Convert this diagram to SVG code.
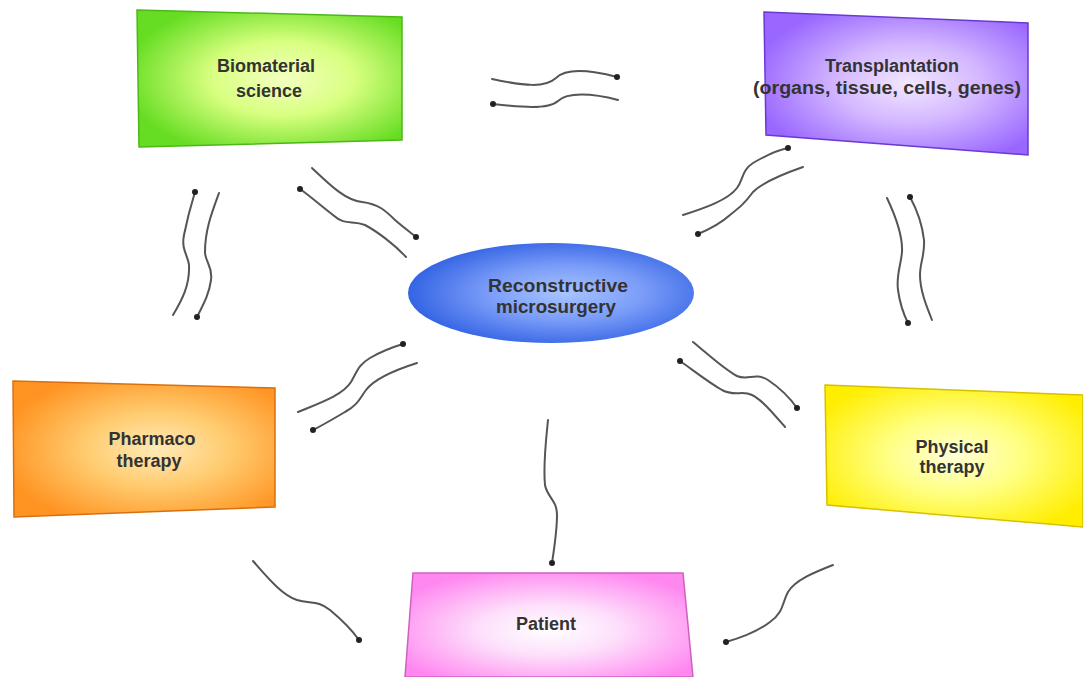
<svg xmlns="http://www.w3.org/2000/svg" width="1083" height="677" viewBox="0 0 1083 677">
<style>
.lbl{font-family:"Liberation Sans",Arial,sans-serif;font-weight:bold;font-size:18px;fill:#333;text-anchor:middle}
.con path{fill:none;stroke:#555;stroke-width:2;stroke-linecap:round;marker-end:url(#dot)}
</style>
<defs>
<marker id="dot" markerWidth="8" markerHeight="8" refX="4" refY="4" markerUnits="userSpaceOnUse"><circle cx="4" cy="4" r="3" fill="#222"/></marker>
<radialGradient id="gGreen" cx="0.55" cy="0.5" r="0.6"><stop offset="0" stop-color="#f4ffc0"/><stop offset="0.45" stop-color="#d8ff80"/><stop offset="1" stop-color="#66dd22"/></radialGradient>
<radialGradient id="gPurple" cx="0.55" cy="0.5" r="0.6"><stop offset="0" stop-color="#f2e8ff"/><stop offset="0.45" stop-color="#d4b8ff"/><stop offset="1" stop-color="#9966ff"/></radialGradient>
<radialGradient id="gBlue" cx="0.55" cy="0.5" r="0.55"><stop offset="0" stop-color="#a8c4ff"/><stop offset="0.5" stop-color="#7a9cf8"/><stop offset="1" stop-color="#3464e4"/></radialGradient>
<radialGradient id="gOrange" cx="0.55" cy="0.5" r="0.6"><stop offset="0" stop-color="#ffeab8"/><stop offset="0.45" stop-color="#ffcc70"/><stop offset="1" stop-color="#ff9422"/></radialGradient>
<radialGradient id="gYellow" cx="0.5" cy="0.5" r="0.6"><stop offset="0" stop-color="#ffffd8"/><stop offset="0.45" stop-color="#ffff80"/><stop offset="1" stop-color="#ffee00"/></radialGradient>
<radialGradient id="gPink" cx="0.5" cy="0.55" r="0.6"><stop offset="0" stop-color="#ffffff"/><stop offset="0.4" stop-color="#fde0fb"/><stop offset="1" stop-color="#ff88f0"/></radialGradient>
</defs>
<rect width="1083" height="677" fill="#ffffff"/>

<g id="connectors" class="con">
<path d="M492,79 C525,86 545,88 556,78 C566,68 590,70 617,77"/>
<path d="M618,100 C592,93 567,92 558,101 C548,110 520,107 493,104"/>
<path d="M173,315 C182,300 190,285 189,265 C188,255 181,250 184,235 C187,220 191,205 195,192"/>
<path d="M219,193 C212,212 205,230 205,252 C205,262 213,266 211,280 C209,295 203,305 197,317"/>
<path d="M312,168 C330,185 345,200 362,202 C378,204 385,210 395,220 C403,227 410,232 416,237"/>
<path d="M406,257 C395,245 378,232 365,225 C352,220 345,226 333,215 C320,205 310,196 300,189"/>
<path d="M683,215 C705,208 728,200 737,188 C743,180 742,170 753,163 C765,156 778,150 788,148"/>
<path d="M803,167 C780,175 762,183 753,192 C745,203 740,207 730,215 C720,224 710,229 698,234"/>
<path d="M887,198 C895,215 903,235 902,252 C901,265 896,275 898,290 C900,305 904,315 908,323"/>
<path d="M932,320 C926,305 920,290 920,275 C920,262 925,255 924,240 C922,222 916,208 910,197"/>
<path d="M298,412 C320,403 343,395 351,382 C357,372 358,365 370,358 C382,351 393,347 403,344"/>
<path d="M417,363 C395,370 375,378 366,390 C360,398 358,405 345,412 C333,419 323,425 313,430"/>
<path d="M693,342 C710,356 725,370 737,376 C748,381 755,372 768,380 C780,388 790,398 797,408"/>
<path d="M785,427 C772,412 762,400 752,395 C742,390 735,397 722,390 C708,382 693,370 680,361"/>
<path d="M548,420 C546,440 543,465 545,485 C547,497 557,500 557,515 C557,530 554,550 552,563"/>
<path d="M253,561 C268,578 282,595 297,600 C310,604 318,600 330,610 C342,620 352,630 359,640"/>
<path d="M833,565 C815,572 795,580 788,592 C782,603 784,612 770,622 C757,632 740,638 726,642"/>
</g>

<g id="biomaterial">
<polygon points="137,10 402,17 402,140 139,147" fill="url(#gGreen)" stroke="#4cb818" stroke-width="1.5"/>
<text class="lbl" x="266" y="72">Biomaterial</text>
<text class="lbl" x="269" y="97">science</text>
</g>

<g id="transplantation">
<polygon points="764,12 1028,23 1028,155 766,135" fill="url(#gPurple)" stroke="#6a3ad0" stroke-width="1.5"/>
<text class="lbl" x="892" y="72">Transplantation</text>
<text class="lbl" x="887" y="94" textLength="268" lengthAdjust="spacingAndGlyphs">(organs, tissue, cells, genes)</text>
</g>

<g id="reconstructive">
<ellipse cx="551" cy="293" rx="143" ry="50" fill="url(#gBlue)"/>
<text class="lbl" x="558" y="292" textLength="140" lengthAdjust="spacingAndGlyphs">Reconstructive</text>
<text class="lbl" x="556" y="313" textLength="120" lengthAdjust="spacingAndGlyphs">microsurgery</text>
</g>

<g id="pharmaco">
<polygon points="13,381 275,388 275,507 14,517" fill="url(#gOrange)" stroke="#d87010" stroke-width="1.5"/>
<text class="lbl" x="152" y="445">Pharmaco</text>
<text class="lbl" x="149" y="467">therapy</text>
</g>

<g id="physical">
<polygon points="825,385 1083,395 1083,527 827,505" fill="url(#gYellow)" stroke="#d8c000" stroke-width="1.5"/>
<text class="lbl" x="952" y="453">Physical</text>
<text class="lbl" x="952" y="473">therapy</text>
</g>

<g id="patient">
<polygon points="413,573 683,573 693,677 405,677" fill="url(#gPink)" stroke="#d060c0" stroke-width="1.5"/>
<text class="lbl" x="546" y="630">Patient</text>
</g>
</svg>
